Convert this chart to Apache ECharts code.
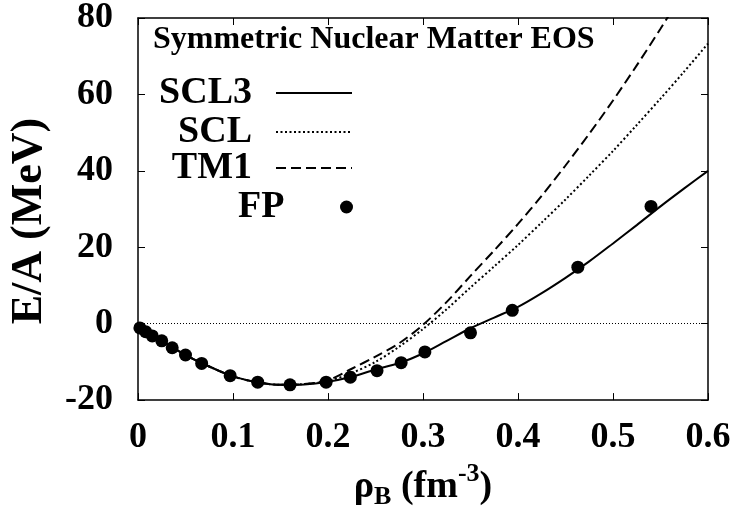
<!DOCTYPE html>
<html>
<head>
<meta charset="utf-8">
<script src="https://cdn.jsdelivr.net/npm/echarts@6/dist/echarts.min.js"></script>
<style>
    html, body { margin: 0; padding: 0; background: #fff; }
    #chart { width: 740px; height: 518px; }
</style>
</head>
<body>
<div id="chart"></div>
<script>
// density grid for the model curves (fm^-3)
const rho = [0, 0.025, 0.05, 0.075, 0.1, 0.125, 0.15, 0.175, 0.2, 0.225, 0.25, 0.275, 0.3,
    0.325, 0.35, 0.375, 0.4, 0.425, 0.45, 0.475, 0.5, 0.525, 0.55, 0.575, 0.6]
// E/A (MeV)
const scl3 = [-0.5, -4.5, -8.2, -11.2, -13.8, -15.3, -16.0, -15.9, -15.2, -13.9, -12.0, -10.3, -7.8,
    -4.5, -1.2, 1.6, 4.4, 8.0, 12.0, 16.3, 21.0, 25.8, 30.7, 35.4, 40.0]
const scl = [-0.5, -4.5, -8.2, -11.2, -13.8, -15.3, -16.0, -15.8, -15.0, -12.9, -10.0, -6.0, -1.4,
    3.8, 9.5, 15.0, 20.6, 26.5, 32.5, 38.8, 45.2, 52.0, 58.9, 66.0, 73.3]
const tm1 = [-0.5, -4.5, -8.2, -11.2, -13.8, -15.3, -16.0, -15.8, -14.8, -11.8, -8.6, -5.1, -0.3,
    5.7, 12.5, 19.2, 26.1, 33.5, 41.4, 49.7, 58.4, 67.6, 77.2, 87.2, 97.7]
// FP points
const fpRho = [0.002, 0.008, 0.015, 0.025, 0.036, 0.050, 0.067, 0.097, 0.126, 0.160, 0.198,
    0.2235, 0.2516, 0.277, 0.302, 0.350, 0.394, 0.463, 0.540]
const fpEA = [-1.1, -2.1, -3.2, -4.5, -6.3, -8.2, -10.4, -13.6, -15.3, -16.0, -15.3,
    -14.0, -12.3, -10.2, -7.4, -2.4, 3.5, 14.8, 30.7]

const FONT = 'Liberation Serif'
const pairs = (xs, ys) => xs.map((x, i) => [x, ys[i]])

const chart = echarts.init(document.getElementById('chart'), null, { renderer: 'canvas' })

// one legend per entry so the labels line up on the right like the original
function legendRow(name, top, itemHeight, hideSymbol) {
    const row = {
        data: [name],
        right: 387,
        top: top,
        align: 'right',
        padding: 0,
        itemWidth: 76,
        itemHeight: itemHeight,
        selectedMode: false,
        textStyle: {
            fontFamily: FONT, fontWeight: 'bold', fontSize: 38, color: '#000',
            lineHeight: 38, padding: [0, 19, 0, 0]
        }
    }
    // line entries: only the line, no dot in the middle
    if (hideSymbol) row.itemStyle = { opacity: 0, color: 'transparent', borderWidth: 0 }
    return row
}

// four axes make the closed frame, ticks point inwards
const tickAxis = {
    axisLine: { show: true, onZero: false, lineStyle: { color: '#000', width: 1.5 } },
    axisTick: { show: true, inside: true, length: 7, lineStyle: { color: '#000', width: 1 } },
    splitLine: { show: false }
}

const txt = { fontFamily: FONT, fontWeight: 'bold', color: '#000' }

const option = {
    backgroundColor: '#fff',
    animation: false,
    title: {
        text: 'Symmetric Nuclear Matter EOS',
        left: 153,
        top: 24,
        padding: 0,
        textStyle: { ...txt, fontSize: 32 }
    },
    legend: [
        legendRow('SCL3', 74, 14, true),
        legendRow('SCL', 113, 14, true),
        legendRow('TM1', 149, 14, true),
        legendRow('FP', 188, 13, false)
    ],
    grid: { left: 138, right: 32, top: 16, bottom: 115 },
    xAxis: [
        {
            type: 'value', min: 0, max: 0.6, interval: 0.1, position: 'bottom',
            ...tickAxis,
            axisLabel: {
                ...txt, margin: 20, fontSize: 36,
                formatter: v => (v === 0 ? '0' : v.toFixed(1))
            },
            name: '{a|ρ}{sub|B}{a| (fm}{sup|-3}{a|)}',
            nameLocation: 'middle',
            nameGap: 58,
            nameTextStyle: {
                rich: {
                    a: { ...txt, fontSize: 38, lineHeight: 38 },
                    sub: { ...txt, fontSize: 26, lineHeight: 26, padding: [20, 0, 0, 0] },
                    sup: { ...txt, fontSize: 26, lineHeight: 26, padding: [0, 0, 26, 0] }
                }
            }
        },
        {
            type: 'value', min: 0, max: 0.6, interval: 0.1, position: 'top',
            ...tickAxis,
            axisLabel: { show: false }
        }
    ],
    yAxis: [
        {
            type: 'value', min: -20, max: 80, interval: 20, position: 'left',
            ...tickAxis,
            axisLabel: { ...txt, margin: 25, fontSize: 36 },
            name: 'E/A (MeV)',
            nameLocation: 'middle',
            nameGap: 86,
            nameTextStyle: { ...txt, fontSize: 44, padding: [0, 24, 0, 0] }
        },
        {
            type: 'value', min: -20, max: 80, interval: 20, position: 'right',
            ...tickAxis,
            axisLabel: { show: false }
        }
    ],
    series: [
        {
            name: 'SCL3',
            type: 'line',
            smooth: 0.3,
            symbol: 'none',
            lineStyle: { color: '#000', width: 2 },
            itemStyle: { color: '#000' },
            data: pairs(rho, scl3),
            // thin dotted zero line
            markLine: {
                silent: true,
                symbol: ['none', 'none'],
                label: { show: false },
                lineStyle: { color: '#000', width: 1, type: [1, 2] },
                data: [{ yAxis: 0 }]
            }
        },
        {
            name: 'SCL',
            type: 'line',
            smooth: 0.3,
            symbol: 'none',
            lineStyle: { color: '#000', width: 2, type: [2, 2.5] },
            itemStyle: { color: '#000' },
            data: pairs(rho, scl)
        },
        {
            name: 'TM1',
            type: 'line',
            smooth: 0.3,
            symbol: 'none',
            lineStyle: { color: '#000', width: 2, type: [10, 5] },
            itemStyle: { color: '#000' },
            data: pairs(rho, tm1)
        },
        {
            name: 'FP',
            type: 'scatter',
            symbol: 'circle',
            symbolSize: 13,
            itemStyle: { color: '#000', opacity: 1 },
            data: pairs(fpRho, fpEA)
        }
    ]
}

chart.setOption(option)
window.addEventListener('resize', function () {
    chart.resize()
})
</script>
</body>
</html>
